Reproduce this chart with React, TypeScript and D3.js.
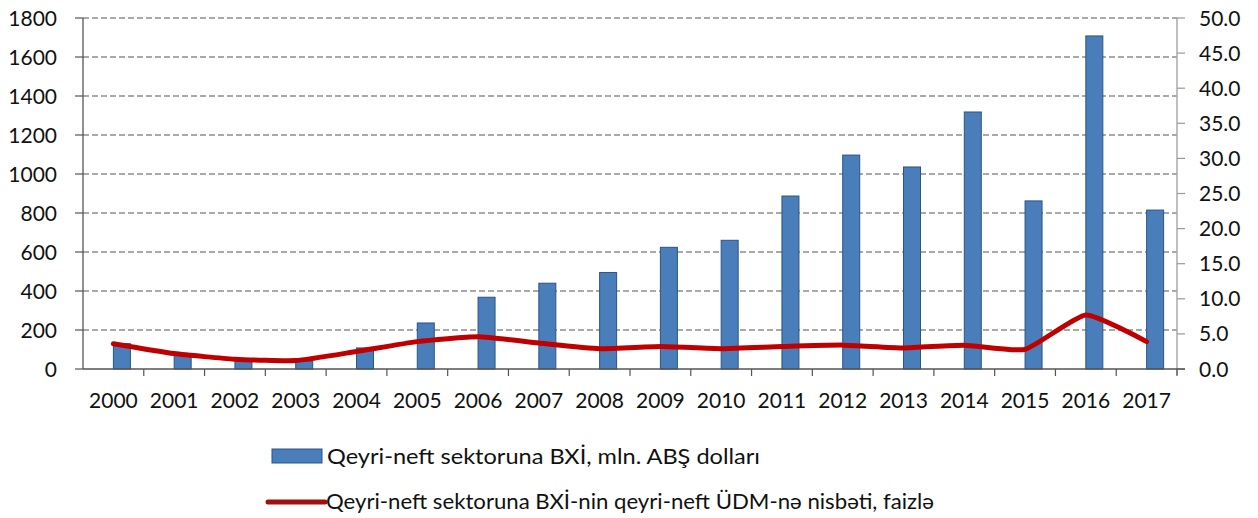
import React from "react";
import * as d3 from "d3";

const years = ["2000","2001","2002","2003","2004","2005","2006","2007","2008","2009","2010","2011","2012","2013","2014","2015","2016","2017"];
const fdiValues = [130, 80, 50, 40, 108, 236, 368, 440, 495, 624, 660, 887, 1097, 1036, 1318, 862, 1708, 815];
const ratioValues = [3.6, 2.2, 1.4, 1.2, 2.5, 3.9, 4.6, 3.7, 2.9, 3.2, 2.9, 3.2, 3.4, 3.0, 3.4, 2.8, 7.7, 3.9];
const leftTicks = [0, 200, 400, 600, 800, 1000, 1200, 1400, 1600, 1800];
const rightTicks = [0, 5, 10, 15, 20, 25, 30, 35, 40, 45, 50];
const legendBar = "Qeyri-neft sektoruna BXİ, mln. ABŞ dolları";
const legendLine = "Qeyri-neft sektoruna BXİ-nin qeyri-neft ÜDM-nə nisbəti, faizlə";

const W = 1258, H = 518;
const plotLeft = 83, plotRight = 1177, plotTop = 18, plotBottom = 369;
const FONT = "Lato, 'Open Sans', sans-serif";

export default function App() {
  const x = d3.scaleBand<string>().domain(years).range([plotLeft, plotRight]).padding(0);
  const yL = d3.scaleLinear().domain([0, 1800]).range([plotBottom, plotTop]);
  const yR = d3.scaleLinear().domain([0, 50]).range([plotBottom, plotTop]);
  const bw = x.bandwidth();
  const barW = 17;
  const cx = (y: string) => (x(y) as number) + bw / 2;
  const line = d3.line<number>()
    .x((_, i) => cx(years[i]))
    .y((d) => yR(d))
    .curve(d3.curveCardinal.tension(0.5));

  return (
    <svg width={W} height={H} style={{ position: "absolute", left: 0, top: 0, background: "#fff" }} fontFamily={FONT}>
      {leftTicks.filter((t) => t > 0).map((t) => (
        <line key={"g" + t} x1={plotLeft} x2={plotRight} y1={yL(t)} y2={yL(t)} stroke="#555" strokeWidth={1.2} strokeDasharray="6,3" />
      ))}
      <line x1={plotLeft} x2={plotLeft} y1={plotTop} y2={plotBottom} stroke="#555" strokeWidth={1.3} />
      {leftTicks.map((t) => (
        <g key={"l" + t}>
          <line x1={plotLeft - 8} x2={plotLeft} y1={yL(t)} y2={yL(t)} stroke="#555" strokeWidth={1.2} />
          <text x={57} y={yL(t) + 7.5} textAnchor="end" fontSize={21} fill="#111">{t}</text>
        </g>
      ))}
      <line x1={plotRight} x2={plotRight} y1={plotTop} y2={plotBottom + 6} stroke="#aaa" strokeWidth={1.5} />
      {rightTicks.map((t) => (
        <g key={"r" + t}>
          <line x1={plotRight} x2={plotRight + 8} y1={yR(t)} y2={yR(t)} stroke="#999" strokeWidth={1.2} />
          <text x={1199} y={yR(t) + 7.5} textAnchor="start" fontSize={21} fill="#111">{t.toFixed(1)}</text>
        </g>
      ))}
      {fdiValues.map((v, i) => (
        <rect key={"b" + i} x={cx(years[i])} y={yL(v)} width={barW} height={plotBottom - yL(v)}
          fill="#4a7ebb" stroke="#2a5585" strokeWidth={1} />
      ))}
      <line x1={plotLeft} x2={plotRight + 8} y1={plotBottom} y2={plotBottom} stroke="#555" strokeWidth={1.3} />
      {years.map((y) => (
        <line key={"xt" + y} x1={(x(y) as number) + bw} x2={(x(y) as number) + bw} y1={plotBottom} y2={plotBottom + 7} stroke="#555" strokeWidth={1.2} />
      ))}
      {years.map((y) => (
        <text key={"xl" + y} x={cx(y)} y={408} textAnchor="middle" fontSize={21} fill="#111">{y}</text>
      ))}
      <path d={line(ratioValues) || ""} fill="none" stroke="#c00000" strokeWidth={5} strokeLinejoin="round" strokeLinecap="round" />
      <rect x={272} y={449} width={50} height={14} fill="#4a7ebb" stroke="#2a5585" strokeWidth={1} />
      <text x={327} y={464} fontSize={21} fill="#111" textLength={433} lengthAdjust="spacingAndGlyphs">{legendBar}</text>
      <line x1={268} x2={325} y1={502} y2={502} stroke="#a01010" strokeWidth={5} strokeLinecap="round" />
      <text x={326} y={509} fontSize={21} fill="#111" textLength={608} lengthAdjust="spacingAndGlyphs">{legendLine}</text>
    </svg>
  );
}
